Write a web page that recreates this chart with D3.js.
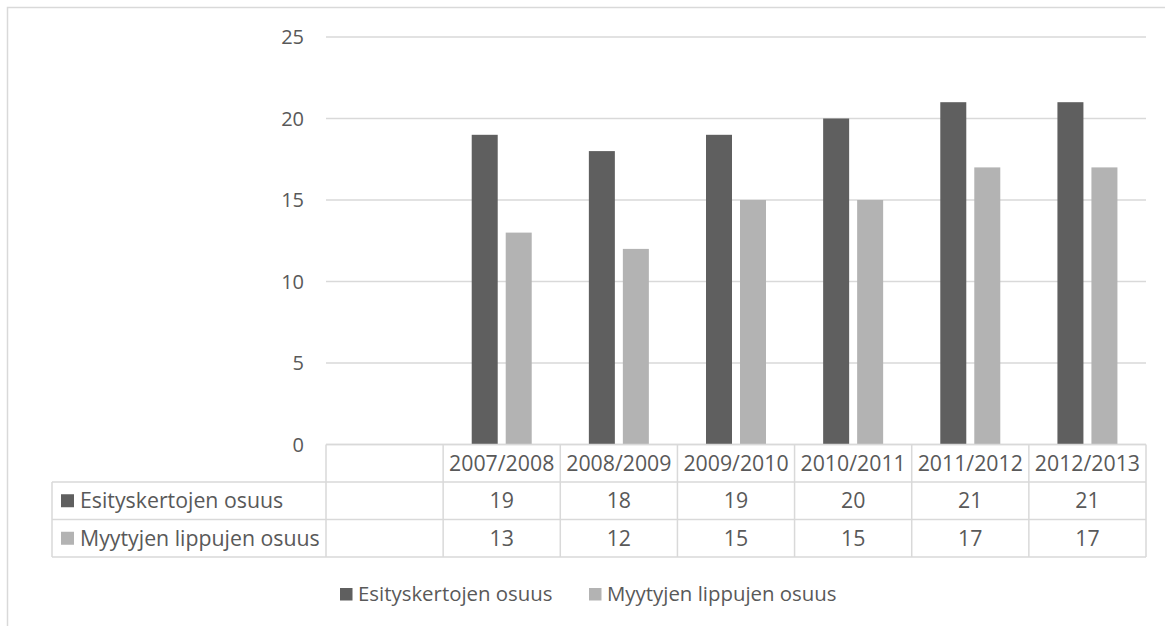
<!DOCTYPE html>
<html>
<head>
<meta charset="utf-8">
<script src="https://cdn.jsdelivr.net/npm/d3@7"></script>
<style>
  body { margin: 0; background: #fff; }
  text { font-family: "Open Sans", sans-serif; fill: #595959; }
</style>
</head>
<body>
<script>
// data
var categories = ["", "2007/2008", "2008/2009", "2009/2010", "2010/2011", "2011/2012", "2012/2013"];
var series = ["Esityskertojen osuus", "Myytyjen lippujen osuus"];
var esitys = [null, 19, 18, 19, 20, 21, 21];
var myyty = [null, 13, 12, 15, 15, 17, 17];
var yTicks = [0, 5, 10, 15, 20, 25];

var width = 1165,
    height = 626;

var dark_col = "#5f5f5f",
    light_col = "#b3b3b3",
    grid_col = "#d9d9d9";

var axisFont = 20,
    tableFont = 21.3,
    legendFont = 20.4;

var svg = d3.select("body").append("svg")
    .attr("width", width)
    .attr("height", height);

// chart frame
svg.append("rect")
    .attr("x", 7.5).attr("y", 7.5)
    .attr("width", 1200).attr("height", 700)
    .style("fill", "none")
    .style("stroke", grid_col)
    .style("stroke-width", 1.5);

var xScale = d3.scaleBand()
    .domain(categories)
    .range([326, 1146]);

var xInner = d3.scaleBand()
    .domain(series)
    .range([-30, 30])
    .paddingInner(0.2353);

var yScale = d3.scaleLinear()
    .domain([0, 25])
    .range([444.5, 37]);

// gridlines
svg.append("g").selectAll("line")
    .data(yTicks)
    .enter().append("line")
    .attr("x1", 326).attr("x2", 1146)
    .attr("y1", function(d) { return yScale(d); })
    .attr("y2", function(d) { return yScale(d); })
    .style("stroke", grid_col)
    .style("stroke-width", 1.5);

// y axis labels
svg.append("g").selectAll("text")
    .data(yTicks)
    .enter().append("text")
    .attr("x", 304)
    .attr("y", function(d) { return yScale(d); })
    .attr("dy", "0.35em")
    .attr("text-anchor", "end")
    .style("font-size", axisFont + "px")
    .text(function(d) { return d; });

// bars
var seriesData = [
    { name: series[0], values: esitys, col: dark_col },
    { name: series[1], values: myyty, col: light_col }
];

seriesData.forEach(function(s) {
    svg.append("g").selectAll("rect")
        .data(categories.map(function(c, i) { return { cat: c, v: s.values[i] }; })
            .filter(function(d) { return d.v != null; }))
        .enter().append("rect")
        .attr("x", function(d) { return xScale(d.cat) + xScale.bandwidth() / 2 + xInner(s.name); })
        .attr("width", xInner.bandwidth())
        .attr("y", function(d) { return yScale(d.v); })
        .attr("height", function(d) { return yScale(0) - yScale(d.v); })
        .style("fill", s.col);
});

// data table
var rowTop = 444.5,
    rowH = 37.5,
    tableLeft = 52;
var tbl = svg.append("g")
    .style("stroke", grid_col)
    .style("stroke-width", 1.5);

// horizontal lines
[0, 1, 2, 3].forEach(function(r) {
    tbl.append("line")
        .attr("x1", r === 0 ? 326 : tableLeft)
        .attr("x2", 1146)
        .attr("y1", rowTop + r * rowH)
        .attr("y2", rowTop + r * rowH);
});
// vertical lines
tbl.append("line")
    .attr("x1", tableLeft).attr("x2", tableLeft)
    .attr("y1", rowTop + rowH).attr("y2", rowTop + 3 * rowH);
categories.forEach(function(c) {
    tbl.append("line")
        .attr("x1", xScale(c)).attr("x2", xScale(c))
        .attr("y1", rowTop).attr("y2", rowTop + 3 * rowH);
});
tbl.append("line")
    .attr("x1", 1146).attr("x2", 1146)
    .attr("y1", rowTop).attr("y2", rowTop + 3 * rowH);

// header texts
svg.append("g").selectAll("text")
    .data(categories)
    .enter().append("text")
    .attr("x", function(d) { return xScale(d) + xScale.bandwidth() / 2; })
    .attr("y", rowTop + rowH / 2)
    .attr("dy", "0.35em")
    .attr("text-anchor", "middle")
    .style("font-size", tableFont + "px")
    .text(function(d) { return d; });

// table rows
seriesData.forEach(function(s, r) {
    var yc = rowTop + (r + 1) * rowH + rowH / 2;
    var g = svg.append("g");
    g.append("rect")
        .attr("x", 61).attr("y", yc - 6.5)
        .attr("width", 13).attr("height", 13)
        .style("fill", s.col);
    g.append("text")
        .attr("x", 80).attr("y", yc)
        .attr("dy", "0.35em")
        .style("font-size", tableFont + "px")
        .text(s.name);
    g.selectAll("text.val")
        .data(categories.map(function(c, i) { return { cat: c, v: s.values[i] }; })
            .filter(function(d) { return d.v != null; }))
        .enter().append("text")
        .attr("class", "val")
        .attr("x", function(d) { return xScale(d.cat) + xScale.bandwidth() / 2; })
        .attr("y", yc)
        .attr("dy", "0.35em")
        .attr("text-anchor", "middle")
        .style("font-size", tableFont + "px")
        .text(function(d) { return d.v; });
});

// legend
var legendX = [340, 589];
seriesData.forEach(function(s, i) {
    var g = svg.append("g");
    g.append("rect")
        .attr("x", legendX[i]).attr("y", 588)
        .attr("width", 12.5).attr("height", 12.5)
        .style("fill", s.col);
    g.append("text")
        .attr("x", legendX[i] + 18).attr("y", 594)
        .attr("dy", "0.35em")
        .style("font-size", legendFont + "px")
        .text(s.name);
});
</script>
</body>
</html>
